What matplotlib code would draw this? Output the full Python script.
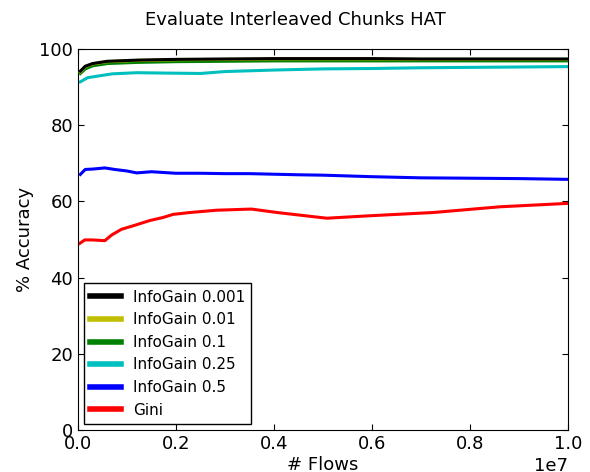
import matplotlib
matplotlib.use("Agg")
import matplotlib.pyplot as plt
import numpy as np

# --- Data (x in millions of flows) ---
top_x = [0.05, 0.15, 0.3, 0.6, 1.2, 2.0, 3.0, 4.0, 5.0, 6.0, 7.0, 8.0, 9.0, 10.0]
ig_0001 = [94.2, 95.5, 96.2, 96.8, 97.1, 97.3, 97.4, 97.5, 97.5, 97.5, 97.4, 97.4, 97.4, 97.4]
ig_001 = [94.0, 95.4, 96.1, 96.7, 97.0, 97.2, 97.3, 97.4, 97.4, 97.4, 97.3, 97.3, 97.3, 97.3]
ig_01 = [93.6, 94.8, 95.6, 96.2, 96.5, 96.7, 96.8, 96.9, 96.9, 96.9, 96.9, 96.9, 96.9, 96.9]

cyan_x = [0.05, 0.2, 0.4, 0.7, 1.2, 1.8, 2.5, 3.0, 4.0, 5.0, 6.0, 7.0, 8.0, 9.0, 10.0]
ig_025 = [91.4, 92.5, 92.9, 93.5, 93.8, 93.7, 93.6, 94.1, 94.5, 94.8, 94.9, 95.1, 95.2, 95.3, 95.4]

blue_x = [0.05, 0.15, 0.3, 0.55, 0.75, 1.0, 1.2, 1.5, 2.0, 2.5, 3.0, 3.5,
          4.5, 5.0, 6.0, 7.0, 8.0, 9.0, 10.0]
ig_05 = [67.1, 68.4, 68.5, 68.8, 68.4, 68.0, 67.5, 67.8, 67.4, 67.4, 67.3, 67.3,
         67.0, 66.9, 66.5, 66.2, 66.1, 66.0, 65.8]

red_x = [0.04, 0.14, 0.3, 0.55, 0.69, 0.89, 1.1, 1.47, 1.74, 1.94, 2.29, 2.83,
         3.54, 4.06, 4.94, 5.08, 5.89, 7.25, 8.61, 10.0]
gini = [49.0, 49.9, 49.9, 49.7, 51.2, 52.7, 53.5, 55.0, 55.8, 56.6, 57.1, 57.7,
        58.0, 57.1, 55.8, 55.6, 56.2, 57.1, 58.6, 59.5]

# (x, y, colour, label, zorder) -- black drawn on top like the original
series = [
    (top_x, ig_0001, "k", "InfoGain 0.001", 5),
    (top_x, ig_001, "y", "InfoGain 0.01", 4),
    (top_x, ig_01, "g", "InfoGain 0.1", 3),
    (cyan_x, ig_025, "c", "InfoGain 0.25", 2),
    (blue_x, ig_05, "b", "InfoGain 0.5", 2),
    (red_x, gini, "r", "Gini", 2),
]

# --- Plot ---
fig = plt.figure(figsize=(5.9, 4.72), dpi=100)
ax = fig.add_axes([0.132, 0.089, 0.831, 0.807])

for xs, ys, color, label, z in series:
    ax.plot(np.array(xs) * 1e6, ys, color=color, lw=2.2, label=label, zorder=z)

ax.set_xlim(0, 1e7)
ax.set_ylim(0, 100)
ax.set_xticks(np.arange(0, 1.01e7, 2e6))
ax.set_yticks(range(0, 101, 20))
ax.tick_params(direction="in", top=True, right=True, labelsize=13, length=4)
ax.xaxis.get_offset_text().set_fontsize(13)

# title is centred on the figure, not the axes
fig.suptitle("Evaluate Interleaved Chunks HAT", fontsize=13, x=0.5, y=0.958, va="center")
ax.set_xlabel("# Flows", fontsize=13, labelpad=2)
ax.set_ylabel("% Accuracy", fontsize=13)

leg = ax.legend(loc="lower left", fontsize=11, fancybox=False, framealpha=1,
                edgecolor="k", borderaxespad=0.4)
leg.get_frame().set_linewidth(1)
for line in leg.get_lines():
    line.set_linewidth(4)

fig.savefig("out.png", dpi=100)
